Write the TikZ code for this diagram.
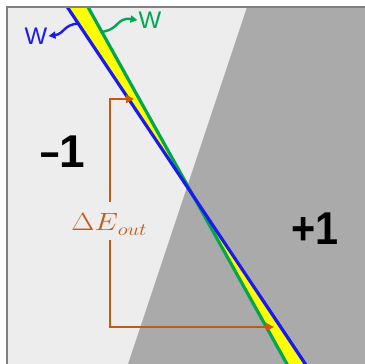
\documentclass[tikz,border=0pt]{standalone}
\usepackage{fontspec}
\setmainfont{Liberation Sans}
\usetikzlibrary{arrows.meta}
\definecolor{bgl}{HTML}{EDEDED}
\definecolor{bgd}{HTML}{AAAAAA}
\definecolor{frm}{HTML}{808080}
\definecolor{lblue}{HTML}{1A1AF0}
\definecolor{lgreen}{HTML}{00A650}
\definecolor{lyel}{HTML}{FFFF00}
\definecolor{lorange}{HTML}{C55A11}
\tikzset{
  bline/.style={lblue, line width=3.2pt},
  gline/.style={lgreen, line width=3.2pt},
  oarrow/.style={lorange, line width=2.6pt, -{Triangle[length=8pt,width=8pt]}},
  oline/.style={lorange, line width=2.6pt},
  barrow/.style={lblue, line width=2.4pt, -{Triangle[length=7pt,width=7pt]}},
  garrow/.style={lgreen, line width=2.4pt, -{Triangle[length=7pt,width=7pt]}},
  bigtxt/.style={font=\fontsize{46}{50}\selectfont\bfseries, text=black, inner sep=0pt},
  wtxt/.style={font=\fontsize{24}{28}\selectfont, inner sep=0pt},
}
\begin{document}
\begin{tikzpicture}[x=1pt,y=-1pt]
\useasboundingbox (0,0) rectangle (365,364);
\fill[white] (0,0) rectangle (365,364);
\begin{scope}
\clip (7,7) rectangle (365,364);
\fill[bgl] (7,7) rectangle (365,364);
\fill[bgd] (247,7) -- (365,7) -- (365,364) -- (128,364) -- cycle;
\coordinate (bt) at (65.3,4);
\coordinate (gt) at (86.3,4);
\coordinate (bb) at (308,368);
\coordinate (gb) at (289.2,368);
\fill[lyel] (bt) -- (gt) -- (gb) -- (bb) -- cycle;
\draw[gline] (gt) -- (gb);
\draw[bline] (bt) -- (bb);
\end{scope}
\draw[frm, line width=1.4pt] (7,366) -- (7,7) -- (366,7);
% orange bracket
\coordinate (ot) at (110,99);
\coordinate (otip) at (134,99);
\coordinate (ob) at (110,327);
\coordinate (obtip) at (274,327);
\node[text=lorange, inner sep=0pt] (dE) at (109,224)
  {\scalebox{1.2}[1]{\fontsize{23}{26}\selectfont$\Delta E$\raisebox{-5pt}{\fontsize{18}{20}\selectfont$out$}}};
\draw[oline] (ot) -- (110,202);
\draw[oarrow] ([xshift=-1.3pt]ot) -- (otip);
\draw[oline] (110,240) -- (ob);
\draw[oarrow] ([xshift=-1.3pt]ob) -- (obtip);
% labels
\node[bigtxt] (m1) at (63,152) {\scalebox{0.75}[1]{–}1};
\node[bigtxt] (p1) at (315,229) {\scalebox{0.9}[1]{+1}};
\node[wtxt, text=lblue] (wb) at (36,36) {W};
\node[wtxt, text=lgreen] (wg) at (150,20) {W};
\coordinate (bs) at (79,23.5);
\coordinate (gs) at (100.5,32);
\draw[barrow] (bs) .. controls (64,24) and (64,34) .. ([xshift=1pt]wb.east);
\draw[garrow] (gs) .. controls (120,30) and (116,17) .. ([xshift=-1pt]wg.west);
\end{tikzpicture}
\end{document}
